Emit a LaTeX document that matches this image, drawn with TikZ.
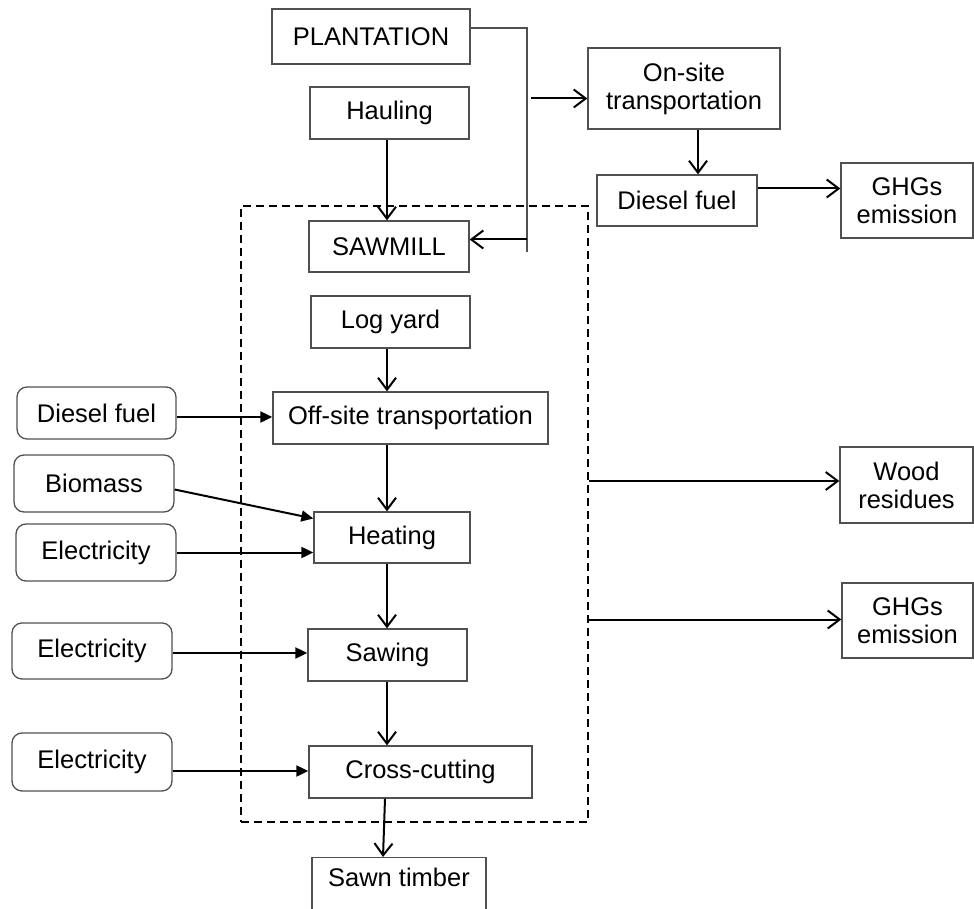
\documentclass[tikz,border=0pt]{standalone}
\usepackage{fontspec}
\setmainfont{Liberation Sans}
\usetikzlibrary{arrows.meta}
\definecolor{BoxGray}{RGB}{80, 80, 80}

\begin{document}
\begin{tikzpicture}[x=1pt, y=-1pt,
    stage/.style={draw=BoxGray, line width=1.3pt, inner sep=0pt, align=center,
      font=\fontsize{25.5}{28}\selectfont},
    input/.style={stage, rounded corners=10pt},
    zone/.style={draw, line width=1.7pt, dash pattern=on 8pt off 5pt},
    flow/.style={line width=2pt, -{Straight Barb[length=12pt, width=18pt]}},
    feed/.style={line width=2pt, -{Triangle[length=12pt, width=11pt]}}]
    \useasboundingbox (0,0) rectangle (974,909);

    % sawmill boundary
    \node[zone, minimum width=347pt, minimum height=616pt] (mill) at (414.5,514) {};

    % main chain
    \node[stage, minimum width=198pt, minimum height=55pt] (plantation) at (371,36.5) {PLANTATION};
    \node[stage, minimum width=159pt, minimum height=52pt] (hauling) at (389.5,113) {Hauling};
    \node[stage, minimum width=160pt, minimum height=51pt] (sawmill) at (389,246.5) {SAWMILL};
    \node[stage, minimum width=159pt, minimum height=52pt] (logyard) at (390.5,322) {Log yard};
    \node[stage, minimum width=275pt, minimum height=52pt] (offsite) at (410.5,418) {Off-site transportation};
    \node[stage, minimum width=156pt, minimum height=51pt] (heating) at (392,537.5) {Heating};
    \node[stage, minimum width=159pt, minimum height=52pt] (sawing) at (387.5,655) {Sawing};
    \node[stage, minimum width=223pt, minimum height=52pt] (crosscut) at (420.5,772) {Cross-cutting};
    \node[stage, minimum width=174pt, minimum height=58pt, anchor=north] (timber) at (399,857) {\raisebox{19pt}{Sawn timber}};

    % on-site branch
    \node[stage, minimum width=192pt, minimum height=81pt] (onsite) at (684,88.5) {On-site\\transportation};
    \node[stage, minimum width=160pt, minimum height=51pt] (dieselsite) at (677,200.5) {Diesel fuel};
    \node[stage, minimum width=132pt, minimum height=75pt] (ghgsite) at (907,200.5) {GHGs\\emission};

    % outputs of the sawmill
    \node[stage, minimum width=133pt, minimum height=76pt] (residues) at (906.5,485) {Wood\\residues};
    \node[stage, minimum width=131pt, minimum height=75pt] (ghgmill) at (907.5,620.5) {GHGs\\emission};

    % energy inputs
    \node[input, minimum width=159pt, minimum height=52pt] (diesel) at (96.5,413) {Diesel fuel};
    \node[input, minimum width=160pt, minimum height=57pt] (biomass) at (94,483.5) {Biomass};
    \node[input, minimum width=160pt, minimum height=57pt] (elecheat) at (96,552.5) {Electricity};
    \node[input, minimum width=160pt, minimum height=56pt] (elecsaw) at (92,651) {Electricity};
    \node[input, minimum width=160pt, minimum height=58pt] (eleccut) at (92,762) {Electricity};

    \coordinate (spine) at (387,0);
    \coordinate (trunk) at (527,28);
    \coordinate (trunkend) at (527,252);

    % plantation split
    \draw[draw=BoxGray, line width=1.3pt] (plantation.east |- trunk) -- (trunk) -- (trunkend);
    \draw[flow] (trunk |- sawmill.east) ++(0,-7) -- ([yshift=7pt]sawmill.east);
    \draw[flow] ([xshift=4pt]trunk |- onsite.west) ++(0,10) -- ([yshift=-10pt]onsite.west);
    \draw[flow] ([xshift=14pt]onsite.south) -- ([xshift=14pt]onsite.south |- dieselsite.north);
    \draw[flow] ([yshift=12pt]dieselsite.east) -- ([yshift=12pt]dieselsite.east -| ghgsite.west);

    % process chain
    \draw[flow] (spine |- hauling.south) -- (spine |- sawmill.north);
    \draw[flow] (spine |- logyard.south) -- (spine |- offsite.north);
    \draw[flow] (spine |- offsite.south) -- (spine |- heating.north);
    \draw[flow] (spine |- heating.south) -- (spine |- sawing.north);
    \draw[flow] (spine |- sawing.south) -- (spine |- crosscut.north);
    \draw[flow] ([xshift=-2pt]spine |- crosscut.south) -- ([xshift=-4pt]spine |- timber.north);

    % inputs
    \draw[feed] (diesel.east) ++(0,4) -- ([yshift=-4pt]diesel.east -| offsite.west);
    \draw[feed] ([yshift=-6pt]biomass.east) -- ([yshift=19pt]heating.west);
    \draw[feed] (elecheat.east) -- (elecheat.east -| heating.west);
    \draw[feed] ([yshift=-2pt]elecsaw.east) -- ([yshift=-2pt]elecsaw.east -| sawing.west);
    \draw[feed] (eleccut.east |- crosscut.west) ++(0,-1) -- ([yshift=1pt]crosscut.west);

    % outputs
    \draw[flow] (mill.east |- residues.west) ++(0,-4) -- ([yshift=4pt]residues.west);
    \draw[flow] (mill.east |- ghgmill.west) ++(0,-1) -- ([yshift=1pt]ghgmill.west);
\end{tikzpicture}
\end{document}
